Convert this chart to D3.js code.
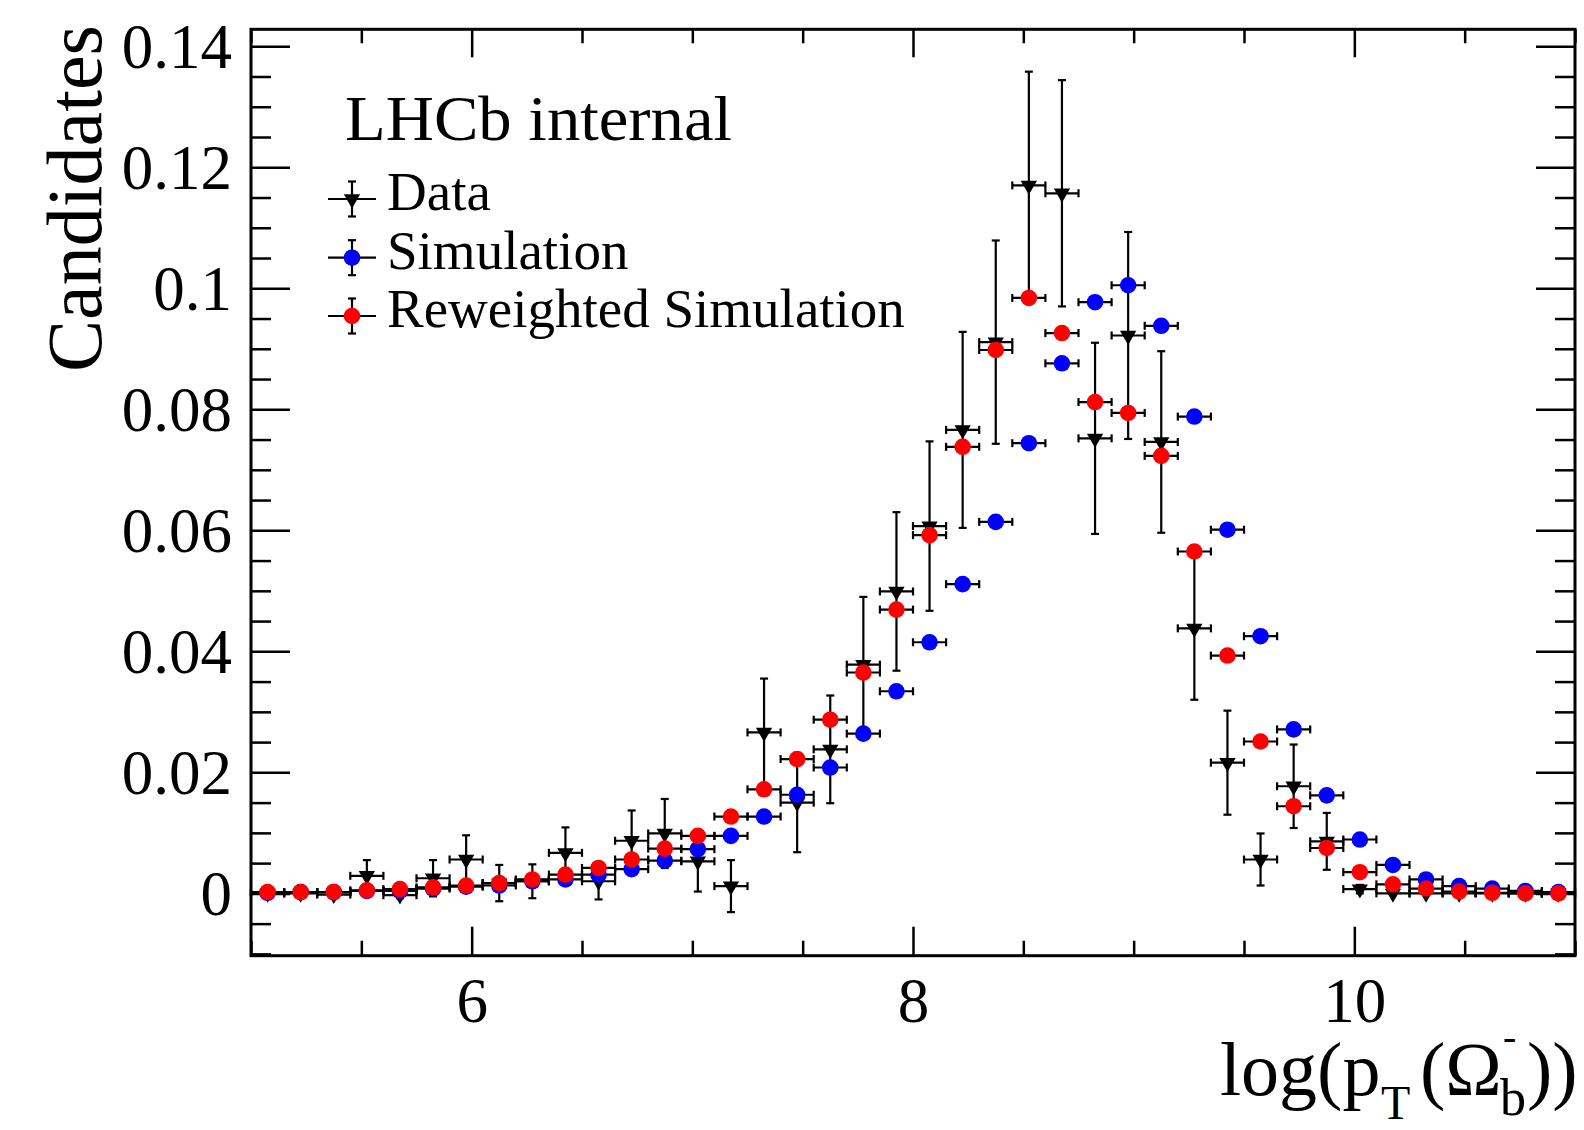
<!DOCTYPE html>
<html>
<head>
<meta charset="utf-8">
<script src="https://cdn.jsdelivr.net/npm/d3@7"></script>
<style>
  body { margin: 0; background: #fff; }
  text { font-family: 'Liberation Serif', 'Times New Roman', serif; fill: #000; }
</style>
</head>
<body>
<div id="root"></div>
<script>
// bins of width 0.15 between 5 and 11
const binCenters = [5.075, 5.225, 5.375, 5.525, 5.675, 5.825, 5.975, 6.125, 6.275, 6.425,
  6.575, 6.725, 6.875, 7.025, 7.175, 7.325, 7.475, 7.625, 7.775, 7.925,
  8.075, 8.225, 8.375, 8.525, 8.675, 8.825, 8.975, 9.125, 9.275, 9.425,
  9.575, 9.725, 9.875, 10.025, 10.175, 10.325, 10.475, 10.625, 10.775, 10.925]
const binWidth = 0.15

const dataValues = [0, 0, -0.0002, 0.0029, -0.0003, 0.0025, 0.0056, 0.0017, 0.002, 0.0067,
  0.002, 0.0087, 0.0099, 0.0053, 0.0012, 0.0266, 0.015, 0.0238, 0.0378, 0.0499,
  0.0607, 0.0766, 0.0911, 0.117, 0.1157, 0.0752, 0.0922, 0.0746, 0.0438, 0.0216,
  0.0056, 0.0177, 0.0086, 0.0007, 0, 0, 0, 0, 0, 0]
const dataErrors = [0, 0, 0.0005, 0.0026, 0.0005, 0.003, 0.004, 0.003, 0.0028, 0.0042,
  0.003, 0.005, 0.0057, 0.005, 0.0043, 0.0089, 0.0082, 0.0089, 0.0112, 0.0131,
  0.014, 0.0162, 0.0168, 0.0188, 0.0187, 0.0158, 0.0171, 0.015, 0.0118, 0.0086,
  0.0043, 0.0069, 0.0047, 0.0007, 0, 0, 0, 0, 0, 0]
const simValues = [0.0001, 0.0002, 0.0002, 0.0004, 0.0004, 0.0008, 0.0011, 0.0013, 0.002, 0.0023,
  0.0031, 0.004, 0.0054, 0.0073, 0.0095, 0.0127, 0.0163, 0.0208, 0.0264, 0.0334,
  0.0415, 0.0511, 0.0614, 0.0744, 0.0876, 0.0977, 0.1005, 0.0938, 0.0788, 0.0601,
  0.0425, 0.0271, 0.0162, 0.0089, 0.0047, 0.0023, 0.0012, 0.0008, 0.0004, 0.0002]
const reweightedValues = [0.0002, 0.0002, 0.0002, 0.0005, 0.0007, 0.001, 0.0013, 0.0017, 0.0023, 0.0031,
  0.0042, 0.0056, 0.0074, 0.0095, 0.0127, 0.0172, 0.0222, 0.0287, 0.0365, 0.0469,
  0.0592, 0.0738, 0.0898, 0.0984, 0.0926, 0.0812, 0.0794, 0.0723, 0.0565, 0.0393,
  0.0251, 0.0144, 0.0075, 0.0035, 0.0015, 0.0008, 0.0003, 0.0001, 0, 0]

const xMajorTicks = [6, 8, 10]
const xTickLabels = ['6', '8', '10']
const xMinorTicks = [5, 5.5, 6.5, 7, 7.5, 8.5, 9, 9.5, 10.5, 11]
const yMajorTicks = [0, 0.02, 0.04, 0.06, 0.08, 0.1, 0.12, 0.14]
const yTickLabels = ['0', '0.02', '0.04', '0.06', '0.08', '0.1', '0.12', '0.14']
const yMinorTicks = [-0.01, -0.005, 0.005, 0.01, 0.015, 0.025, 0.03, 0.035, 0.045, 0.05, 0.055,
  0.065, 0.07, 0.075, 0.085, 0.09, 0.095, 0.105, 0.11, 0.115, 0.125, 0.13, 0.135]

const legendLabels = ['Data', 'Simulation', 'Reweighted Simulation']
const legendColors = ['#000', '#0000ff', '#ff0000']

const dimensions = {
  width: 1584,
  height: 1130,
  frame: { left: 251, right: 1575, top: 29.3, bottom: 955.7 }
}
const f = dimensions.frame
const tickWidth = 2.5

const svg = d3.select('#root').append('svg')
  .attr('width', dimensions.width)
  .attr('height', dimensions.height)

const xScale = d3.scaleLinear().domain([5, 11]).range([f.left, f.right])
const yScale = d3.scaleLinear().domain([-0.0103, 0.1428]).range([f.bottom, f.top])

// ticks on all four sides, pointing inwards
function tickAxis (axis, values, size, transform) {
  const g = svg.append('g')
    .attr('transform', transform)
    .call(axis.tickValues(values).tickSize(size).tickFormat(''))
  g.select('.domain').remove()
  g.selectAll('line').attr('stroke', '#000').attr('stroke-width', tickWidth)
  return g
}
tickAxis(d3.axisRight(yScale), yMajorTicks, 39, `translate(${f.left},0)`)
tickAxis(d3.axisRight(yScale), yMinorTicks, 20, `translate(${f.left},0)`)
tickAxis(d3.axisLeft(yScale), yMajorTicks, 39, `translate(${f.right},0)`)
tickAxis(d3.axisLeft(yScale), yMinorTicks, 20, `translate(${f.right},0)`)
tickAxis(d3.axisTop(xScale), xMajorTicks, 29, `translate(0,${f.bottom})`)
tickAxis(d3.axisTop(xScale), xMinorTicks, 15, `translate(0,${f.bottom})`)
tickAxis(d3.axisBottom(xScale), xMajorTicks, 28, `translate(0,${f.top})`)
tickAxis(d3.axisBottom(xScale), xMinorTicks, 14, `translate(0,${f.top})`)

// tick labels
const yLabels = svg.append('g')
  .attr('transform', `translate(${f.left},0)`)
  .call(d3.axisLeft(yScale).tickValues(yMajorTicks).tickSize(0).tickPadding(19)
    .tickFormat((d, i) => yTickLabels[i]))
yLabels.select('.domain').remove()
yLabels.selectAll('text')
  .attr('font-size', 63)
  .attr('font-family', null)
  .attr('dy', '0.335em')

const xLabels = svg.append('g')
  .attr('transform', `translate(0,${f.bottom})`)
  .call(d3.axisBottom(xScale).tickValues(xMajorTicks).tickSize(0).tickPadding(22)
    .tickFormat((d, i) => xTickLabels[i]))
xLabels.select('.domain').remove()
xLabels.selectAll('text')
  .attr('font-size', 63)
  .attr('font-family', null)

// frame
svg.append('rect')
  .attr('x', f.left)
  .attr('y', f.top)
  .attr('width', f.right - f.left)
  .attr('height', f.bottom - f.top)
  .attr('fill', 'none')
  .attr('stroke', '#000')
  .attr('stroke-width', 3)

// series
const triangle = d3.symbol(d3.symbolTriangle, 115)
const cap = 4
const lw = 2.2

function drawSeries (values, errors, color, isData) {
  const pts = binCenters.map((c, i) => ({ c, v: values[i], e: errors ? errors[i] : 0 }))
  const g = svg.append('g')
  const pt = g.selectAll('g').data(pts).join('g')

  // horizontal bars over the bin
  pt.append('line')
    .attr('x1', d => xScale(d.c - binWidth / 2))
    .attr('x2', d => xScale(d.c + binWidth / 2))
    .attr('y1', d => yScale(d.v))
    .attr('y2', d => yScale(d.v))
  pt.append('line')
    .attr('x1', d => xScale(d.c - binWidth / 2))
    .attr('x2', d => xScale(d.c - binWidth / 2))
    .attr('y1', d => yScale(d.v) - cap)
    .attr('y2', d => yScale(d.v) + cap)
  pt.append('line')
    .attr('x1', d => xScale(d.c + binWidth / 2))
    .attr('x2', d => xScale(d.c + binWidth / 2))
    .attr('y1', d => yScale(d.v) - cap)
    .attr('y2', d => yScale(d.v) + cap)

  // vertical error bars
  const withErr = pt.filter(d => d.e > 0)
  withErr.append('line')
    .attr('x1', d => xScale(d.c))
    .attr('x2', d => xScale(d.c))
    .attr('y1', d => yScale(d.v - d.e))
    .attr('y2', d => yScale(d.v + d.e))
  withErr.append('line')
    .attr('x1', d => xScale(d.c) - cap)
    .attr('x2', d => xScale(d.c) + cap)
    .attr('y1', d => yScale(d.v + d.e))
    .attr('y2', d => yScale(d.v + d.e))
  withErr.append('line')
    .attr('x1', d => xScale(d.c) - cap)
    .attr('x2', d => xScale(d.c) + cap)
    .attr('y1', d => yScale(d.v - d.e))
    .attr('y2', d => yScale(d.v - d.e))

  g.selectAll('line').attr('stroke', '#000').attr('stroke-width', lw)

  if (isData) {
    pt.append('path')
      .attr('d', triangle)
      .attr('transform', d => `translate(${xScale(d.c)},${yScale(d.v)}) rotate(180)`)
      .attr('fill', color)
  } else {
    pt.append('circle')
      .attr('cx', d => xScale(d.c))
      .attr('cy', d => yScale(d.v))
      .attr('r', 8.3)
      .attr('fill', color)
  }
}
drawSeries(dataValues, dataErrors, legendColors[0], true)
drawSeries(simValues, null, legendColors[1], false)
drawSeries(reweightedValues, null, legendColors[2], false)

// legend
svg.append('text')
  .attr('x', 345)
  .attr('y', 140)
  .attr('font-size', 64)
  .attr('textLength', 387)
  .attr('lengthAdjust', 'spacingAndGlyphs')
  .text('LHCb internal')

const legendY = [199, 257.7, 316]
const legendX = 352
legendLabels.forEach((label, i) => {
  const g = svg.append('g')
  const cy = legendY[i]
  g.append('line').attr('x1', legendX - 24).attr('x2', legendX + 24).attr('y1', cy).attr('y2', cy)
  g.append('line').attr('x1', legendX).attr('x2', legendX).attr('y1', cy - 17.5).attr('y2', cy + 17.5)
  g.append('line').attr('x1', legendX - cap).attr('x2', legendX + cap).attr('y1', cy - 17.5).attr('y2', cy - 17.5)
  g.append('line').attr('x1', legendX - cap).attr('x2', legendX + cap).attr('y1', cy + 17.5).attr('y2', cy + 17.5)
  g.selectAll('line').attr('stroke', '#000').attr('stroke-width', lw)
  if (i === 0) {
    g.append('path').attr('d', triangle).attr('transform', `translate(${legendX},${cy}) rotate(180)`).attr('fill', legendColors[i])
  } else {
    g.append('circle').attr('cx', legendX).attr('cy', cy).attr('r', 8.3).attr('fill', legendColors[i])
  }
  g.append('text')
    .attr('x', 387)
    .attr('y', cy + 11)
    .attr('font-size', 55)
    .text(label)
})

// axis titles
svg.append('text')
  .attr('transform', 'translate(101,25) rotate(-90)')
  .attr('text-anchor', 'end')
  .attr('font-size', 78)
  .attr('textLength', 347)
  .attr('lengthAdjust', 'spacingAndGlyphs')
  .text('Candidates')

const xTitle = svg.append('text').attr('font-size', 76)
xTitle.append('tspan').attr('x', 1220).attr('y', 1095).text('log(p')
xTitle.append('tspan').attr('x', 1381).attr('y', 1119).attr('font-size', 48).text('T')
xTitle.append('tspan').attr('x', 1420).attr('y', 1095).text('(Ω')
xTitle.append('tspan').attr('x', 1500).attr('y', 1115).attr('font-size', 52).text('b')
xTitle.append('tspan').attr('x', 1503).attr('y', 1050).attr('font-size', 40).text('-')
xTitle.append('tspan').attr('x', 1527).attr('y', 1095).text('))')
</script>
</body>
</html>
